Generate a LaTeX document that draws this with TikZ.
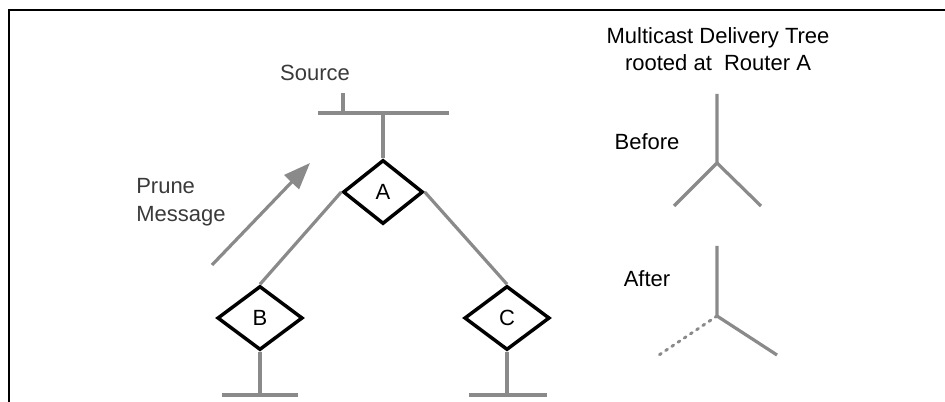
\documentclass[tikz,border=0pt]{standalone}
\usepackage{fontspec}
\setmainfont{Liberation Sans}
\usetikzlibrary{arrows.meta,shapes.geometric}
\definecolor{wire}{HTML}{8A8A8A}
\definecolor{softtext}{HTML}{3A3A3A}

\begin{document}
\begin{tikzpicture}[x=0.75pt,y=-0.75pt]
            \tikzstyle{every node}+=[inner sep=0pt, font=\fontsize{16.5}{20}\selectfont]
            \tikzstyle{router}=[draw=black, line width=2.6pt, shape=diamond, minimum width=60pt, minimum height=48pt]
            \tikzstyle{link}=[draw=wire, line width=2.4pt]
            \useasboundingbox (0,0) rectangle (945,402);
            \draw [black, line width=1.1pt] (9,402) -- (9,10) -- (945,10);
            % routers
            \node [router] (A) at (383,192) {A};
            \node [router, minimum width=64pt] (B) at (260,318) {B};
            \node [router, minimum width=64pt] (C) at (507,318) {C};
            % source segment
            \coordinate (srcL) at (318,113);
            \coordinate (srcR) at (449,113);
            \coordinate (srcJ) at (383,113);
            \coordinate (srcHost) at (343,113);
            \coordinate (srcTop) at (343,93);
            \draw [link] (srcL) -- (srcR);
            \draw [link] (srcHost) -- (srcTop);
            \draw [link] (A.north) -- (srcJ);
            \node [text=softtext] (source) at (315,73) {Source};
            % tree links
            \draw [link] (A.west) -- (B.north);
            \draw [link] (A.east) -- (C.north);
            % leaf segments
            \coordinate (bJ) at (260,395);
            \coordinate (bL) at (222,395);
            \coordinate (bR) at (298,395);
            \draw [link] (B.south) -- (bJ);
            \draw [link] (bL) -- (bR);
            \coordinate (cJ) at (507,395);
            \coordinate (cL) at (469,395);
            \coordinate (cR) at (547,395);
            \draw [link] (C.south) -- (cJ);
            \draw [link] (cL) -- (cR);
            % prune message
            \coordinate (pruneTail) at (212,265);
            \coordinate (pruneTip) at (310,163);
            \draw [link, -{Triangle[length=20pt, width=15pt]}] (pruneTail) -- (pruneTip);
            \node [text=softtext, anchor=west, align=left, font=\fontsize{16.5}{21}\selectfont] (prune) at (136,202) {Prune\\Message};
            % delivery tree, before and after
            \node [align=center] (title) at (718,49) {Multicast Delivery Tree\\rooted at\ \ Router A};
            \node (before) at (647,142) {Before};
            \coordinate (bfTop) at (717,94);
            \coordinate (bfMid) at (717,163);
            \coordinate (bfLeft) at (674,206);
            \coordinate (bfRight) at (761,206);
            \draw [link] (bfTop) -- (bfMid) -- (bfLeft);
            \draw [link] (bfMid) -- (bfRight);
            \node (after) at (647,279) {After};
            \coordinate (afTop) at (717,246);
            \coordinate (afMid) at (717,316);
            \coordinate (afLeft) at (659,355);
            \coordinate (afRight) at (777,355);
            \draw [link] (afTop) -- (afMid) -- (afRight);
            \draw [link, line width=2.2pt, line cap=round, dash pattern=on 1.6pt off 4pt] (afMid) -- (afLeft);
\end{tikzpicture}
\end{document}
